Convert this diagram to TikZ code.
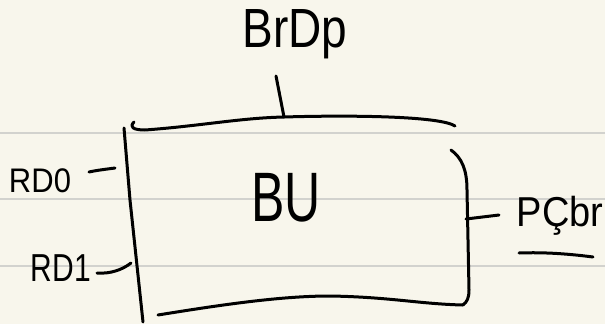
\documentclass[tikz,border=0pt]{standalone}
\usepackage{fontspec}
\setmainfont{Liberation Sans}
\definecolor{paper}{HTML}{F8F6EC}
\definecolor{rule}{HTML}{D2D2CE}
\begin{document}
\begin{tikzpicture}[x=1pt,y=-1pt,
  ink/.style={line width=3pt,line cap=round,line join=round,black},
  ruleline/.style={line width=2pt,rule},
  lbl/.style={inner sep=0pt,outer sep=0pt,text=black}]
\fill[paper] (0,0) rectangle (605,324);
\useasboundingbox (0,0) rectangle (605,324);
% ruled lines
\draw[ruleline] (0,133) -- (605,133);
\draw[ruleline] (0,199) -- (605,199);
\draw[ruleline] (0,266) -- (605,266);
% labels
\node[lbl,yscale=1.2,font=\fontsize{46}{46}\selectfont] (brdp) at (295,34) {BrDp};
\node[lbl,yscale=1.4,font=\fontsize{50}{50}\selectfont] (bu) at (286,198) {BU};
\node[lbl,yscale=1.1,font=\fontsize{31}{31}\selectfont] (rd0) at (40,181) {RD0};
\node[lbl,yscale=1.3,font=\fontsize{30}{30}\selectfont] (rd1) at (61,268) {RD1};
\node[lbl,yscale=1.1,font=\fontsize{38}{38}\selectfont] (pcbr) at (560,216) {PÇbr};
% box (hand drawn)
\coordinate (stemtop) at (276,76);
\coordinate (stembot) at (284,117);
\draw[ink] (stemtop) -- (stembot);
\draw[ink] (134,122) .. controls (129,127) and (133,130) .. (145,130)
  .. controls (200,126) and (240,118) .. (stembot)
  .. controls (350,115) and (440,116) .. (455,126);
\draw[ink] (124,128) -- (130,200) -- (143,322);
\draw[ink] (451,150) .. controls (462,158) and (467,170) .. (467,190)
  -- (469,290) .. controls (469,298) and (467,302) .. (463,305);
\draw[ink] (158,315) .. controls (220,305) and (280,296) .. (330,296)
  .. controls (390,297) and (420,304) .. (463,305);
% pins
\coordinate (d0a) at (89,172); \coordinate (d0b) at (115,168);
\draw[ink] (d0a) .. controls (98,170) and (108,169) .. (d0b);
\coordinate (d1a) at (97,273); \coordinate (d1b) at (131,263);
\draw[ink] (d1a) .. controls (110,274) and (122,270) .. (d1b);
\coordinate (pa) at (466,219); \coordinate (pb) at (499,215);
\draw[ink] (pa) -- (pb);
\coordinate (ua) at (519,253); \coordinate (ub) at (593,257);
\draw[ink] (ua) .. controls (545,252) and (570,254) .. (ub);
\end{tikzpicture}
\end{document}
